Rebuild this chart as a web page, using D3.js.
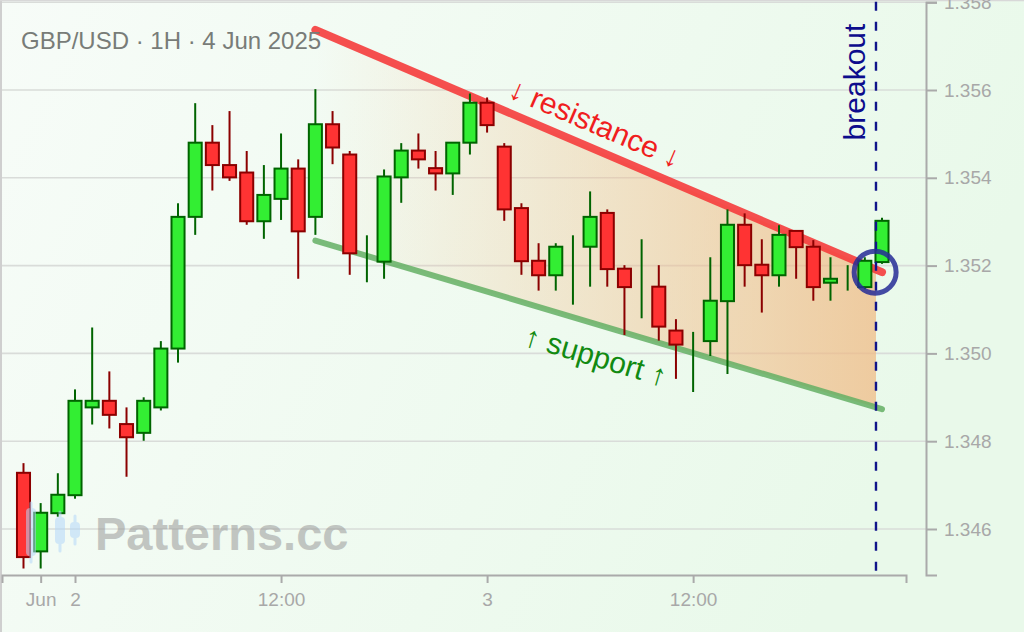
<!DOCTYPE html>
<html><head><meta charset="utf-8">
<script src="https://cdn.jsdelivr.net/npm/d3@7"></script>
<style>html,body{margin:0;padding:0;overflow:hidden;background:#fff} svg{display:block}</style>
</head><body>
<svg id="c" width="1024" height="632"></svg>
<script>
// ---- data ----
const title = "GBP/USD · 1H · 4 Jun 2025";
const hours = [-3,-2,-1,0,1,2,3,4,5,6,7,8,9,10,11,12,13,14,15,16,17,18,19,20,21,22,23,24,25,26,27,28,29,30,31,32,33,34,35,36,37,38,39,40,41,42,43,44,45,46,47];
const open  = [1.34728,1.34549,1.34636,1.34677,1.34877,1.34892,1.34839,1.34819,1.34877,1.35011,1.35311,1.35480,1.35429,1.35412,1.35301,1.35352,1.35421,1.35311,1.35522,1.35453,1.35220,1.35209,1.35401,1.35462,1.35422,1.35410,1.35480,1.35571,1.35471,1.35331,1.35211,1.35178,1.35200,1.35243,1.35320,1.35193,1.35170,1.35152,1.35052,1.34980,1.35028,1.35119,1.35293,1.35202,1.35178,1.35279,1.35243,1.35161,1.35170,1.35151,1.35208];
const high  = [1.34750,1.34659,1.34727,1.34918,1.35059,1.34959,1.34877,1.34900,1.35028,1.35342,1.35570,1.35520,1.35552,1.35461,1.35429,1.35501,1.35442,1.35602,1.35552,1.35461,1.35269,1.35419,1.35479,1.35501,1.35461,1.35480,1.35592,1.35583,1.35479,1.35342,1.35251,1.35251,1.35269,1.35369,1.35328,1.35201,1.35260,1.35201,1.35078,1.35049,1.35219,1.35328,1.35319,1.35260,1.35292,1.35279,1.35258,1.35219,1.35201,1.35219,1.35309];
const low   = [1.34510,1.34510,1.34628,1.34669,1.34838,1.34829,1.34719,1.34801,1.34870,1.34979,1.35270,1.35371,1.35393,1.35293,1.35261,1.35304,1.35170,1.35270,1.35431,1.35179,1.35162,1.35170,1.35343,1.35421,1.35371,1.35361,1.35453,1.35503,1.35302,1.35179,1.35143,1.35143,1.35111,1.35152,1.35152,1.35042,1.35080,1.35029,1.34942,1.34912,1.34994,1.34953,1.35152,1.35093,1.35152,1.35170,1.35120,1.35120,1.35143,1.35146,1.35204];
const close = [1.34536,1.34637,1.34678,1.34892,1.34892,1.34860,1.34809,1.34892,1.35011,1.35311,1.35480,1.35429,1.35401,1.35301,1.35361,1.35421,1.35278,1.35522,1.35469,1.35228,1.35220,1.35403,1.35462,1.35442,1.35410,1.35480,1.35571,1.35520,1.35328,1.35210,1.35178,1.35243,1.35200,1.35311,1.35192,1.35151,1.35170,1.35061,1.35020,1.34980,1.35120,1.35293,1.35201,1.35178,1.35270,1.35242,1.35151,1.35170,1.35170,1.35211,1.35302];
const xTickHours  = [-2, 0, 12, 24, 36];
const xTickLabels = ["Jun", "2", "12:00", "3", "12:00"];
const yTicks = [1.346, 1.348, 1.350, 1.352, 1.354, 1.356, 1.358];
const resistanceHours = [14, 47];
const resistanceValues = [1.35737, 1.35185];
const supportHours = [14, 47];
const supportValues = [1.35257, 1.34873];
const breakoutHour = 46.65;
const breakoutCircle = [46.6, 1.35185];
const labelResistance = "↓ resistance ↓";
const labelSupport = "↑ support ↑";
const labelBreakout = "breakout";
const watermark = "Patterns.cc";

// ---- chart ----
const FONT = "'Liberation Sans', Arial, Helvetica, sans-serif";
const svg = d3.select("#c");
const W = 1024, H = 632;
const x = d3.scaleLinear().domain([-4.252, 48.398]).range([2, 906]);
const y = d3.scaleLinear().domain([1.344952, 1.358]).range([575, 2.2]);
const defs = svg.append("defs");

const bg = defs.append("linearGradient").attr("id","bg").attr("x1","0").attr("y1","0").attr("x2","1").attr("y2","0.3");
bg.append("stop").attr("offset","0").attr("stop-color","#f7fcf8");
bg.append("stop").attr("offset","1").attr("stop-color","#e9f9ea");
svg.append("rect").attr("width",W).attr("height",H).attr("fill","url(#bg)");
// frame
svg.append("line").attr("x1",1).attr("x2",1).attr("y1",0).attr("y2",H).attr("stroke","#cfcfcf").attr("stroke-width",2);
svg.append("line").attr("x1",0).attr("x2",W).attr("y1",0.5).attr("y2",0.5).attr("stroke","#d8d8d8").attr("stroke-width",1.5);

// grid
svg.append("g").selectAll("line").data(yTicks).join("line")
  .attr("x1",2).attr("x2",926).attr("y1",d=>y(d)).attr("y2",d=>y(d))
  .attr("stroke","#d9dcd9").attr("stroke-width",1.6);

// wedge fill
const lineAt = (hs, vs, h) => vs[0] + (vs[1]-vs[0])*(h-hs[0])/(hs[1]-hs[0]);
const fg = defs.append("linearGradient").attr("id","wedge").attr("gradientUnits","userSpaceOnUse")
  .attr("x1", x(resistanceHours[0])).attr("x2", x(breakoutHour)).attr("y1",0).attr("y2",0);
fg.append("stop").attr("offset","0").attr("stop-color","rgb(245,190,140)").attr("stop-opacity",0);
fg.append("stop").attr("offset","1").attr("stop-color","rgb(240,185,130)").attr("stop-opacity",0.72);
const h0 = resistanceHours[0], h1 = breakoutHour;
const poly = [
  [x(h0), y(lineAt(resistanceHours, resistanceValues, h0))],
  [x(h1), y(lineAt(resistanceHours, resistanceValues, h1))],
  [x(h1), y(lineAt(supportHours, supportValues, h1))],
  [x(h0), y(lineAt(supportHours, supportValues, h0))]
];
svg.append("path").attr("d", "M" + poly.map(p=>p.join(",")).join("L") + "Z").attr("fill","url(#wedge)");

// trend lines
const ln = d3.line().x(d=>x(d[0])).y(d=>y(d[1]));
svg.append("path").attr("d", ln(supportHours.map((h,i)=>[h, supportValues[i]])))
  .attr("stroke","rgb(100,175,100)").attr("stroke-opacity",0.85).attr("stroke-width",6).attr("stroke-linecap","round").attr("fill","none");
svg.append("path").attr("d", ln(resistanceHours.map((h,i)=>[h, resistanceValues[i]])))
  .attr("stroke","rgb(245,60,60)").attr("stroke-opacity",0.9).attr("stroke-width",8).attr("stroke-linecap","round").attr("fill","none");

// candles
const bw = (x(1)-x(0))*0.76;
const candles = hours.map((h,i)=>({h, o:open[i], hi:high[i], lo:low[i], c:close[i]}));
const cg = svg.append("g");
const up = d => d.c >= d.o;
cg.selectAll("line").data(candles).join("line")
  .attr("x1",d=>x(d.h)).attr("x2",d=>x(d.h)).attr("y1",d=>y(d.hi)).attr("y2",d=>y(d.lo))
  .attr("stroke",d=>up(d)?"#006400":"#8b0000").attr("stroke-width",2);
cg.selectAll("rect").data(candles).join("rect")
  .attr("x",d=>x(d.h)-bw/2).attr("width",bw)
  .attr("y",d=>y(Math.max(d.o,d.c))).attr("height",d=>Math.abs(y(d.o)-y(d.c)))
  .attr("fill",d=>up(d)?"#33ee33":"#ff3333")
  .attr("stroke",d=>up(d)?"#006400":"#8b0000").attr("stroke-width",2);

// breakout line
svg.append("line").attr("x1",x(breakoutHour)).attr("x2",x(breakoutHour)).attr("y1",1.7).attr("y2",575)
  .attr("stroke","#10148a").attr("stroke-width",2.4).attr("stroke-dasharray","9,11");
svg.append("circle").attr("cx",x(breakoutCircle[0])).attr("cy",y(breakoutCircle[1])).attr("r",21)
  .attr("fill","none").attr("stroke","#262c96").attr("stroke-opacity",0.85).attr("stroke-width",5);

// labels on lines
function angle(hs, vs){ return Math.atan2(y(vs[1])-y(vs[0]), x(hs[1])-x(hs[0]))*180/Math.PI; }
const rh = 30;
svg.append("g").attr("transform",`translate(${x(rh)},${y(lineAt(resistanceHours,resistanceValues,rh))}) rotate(${angle(resistanceHours,resistanceValues)})`)
  .append("text").attr("x",-5).attr("y",-14).attr("text-anchor","middle")
  .attr("font-family",FONT).attr("font-size",30).attr("fill","#f01e1e").text(labelResistance);
svg.append("g").attr("transform",`translate(${x(rh)},${y(lineAt(supportHours,supportValues,rh))}) rotate(${angle(supportHours,supportValues)})`)
  .append("text").attr("x",15).attr("y",41).attr("text-anchor","middle")
  .attr("font-family",FONT).attr("font-size",30).attr("fill","#128a12").text(labelSupport);
svg.append("text").attr("transform",`translate(${x(breakoutHour)-11},82) rotate(-90)`)
  .attr("text-anchor","middle").attr("font-family",FONT).attr("font-size",30).attr("fill","#0c0c8c").text(labelBreakout);

// axes
const ya = svg.append("g").attr("transform","translate(926,0)")
  .call(d3.axisRight(y).tickValues(yTicks).tickFormat(d3.format(".3f")).tickSize(11).tickPadding(7));
const xa = svg.append("g").attr("transform","translate(0,575)")
  .call(d3.axisBottom(x).tickValues(xTickHours).tickFormat((d,i)=>xTickLabels[i]).tickSize(8).tickPadding(10));
[ya, xa].forEach(a=>{
  a.selectAll("path.domain").attr("stroke","#aaaaaa").attr("stroke-width",2);
  a.selectAll(".tick line").attr("stroke","#aaaaaa").attr("stroke-width",2);
  a.selectAll("text").attr("fill","#a8a8a8").attr("font-family",FONT).attr("font-size",19);
});

// title
svg.append("text").attr("x",21).attr("y",49).attr("font-family",FONT).attr("font-size",24)
  .attr("fill","#787c78").text(title);

// watermark
const wm = svg.append("g").attr("opacity",0.55);
const icon = [[31,503,562,508,556],[60,512,551,517,544],[75,516,544,522,538]];
icon.forEach(d=>{
  wm.append("line").attr("x1",d[0]).attr("x2",d[0]).attr("y1",d[1]).attr("y2",d[2]).attr("stroke","#b5d8fa").attr("stroke-width",3).attr("stroke-linecap","round");
  wm.append("rect").attr("x",d[0]-5).attr("width",10).attr("y",d[3]).attr("height",d[4]-d[3]).attr("rx",4).attr("fill","#b5d8fa");
});
wm.append("text").attr("x",95).attr("y",550).attr("font-family",FONT).attr("font-weight","bold")
  .attr("font-size",47).attr("fill","#9a9a9a").text(watermark);
</script>
</body></html>
